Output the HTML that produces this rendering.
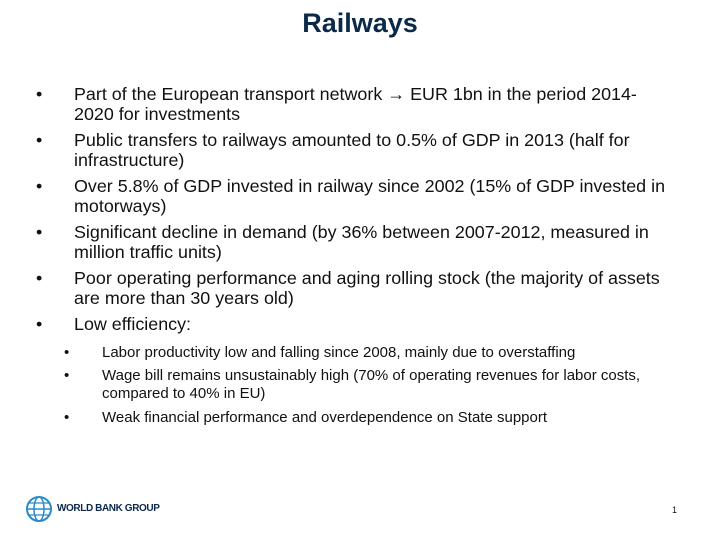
<!DOCTYPE html>
<html><head><meta charset="utf-8"><style>
body{margin:0;width:720px;height:540px;background:#fff;position:relative;overflow:hidden;font-family:"Liberation Sans",Arial,sans-serif;color:#111}
.t{position:absolute;white-space:nowrap;font-size:17.9px;line-height:20px}
.s{position:absolute;white-space:nowrap;font-size:15px;line-height:17px}
</style></head><body>
<div style="position:absolute;left:0;width:720px;top:8px;text-align:center;font-weight:bold;font-size:27px;color:#0b2a4a">Railways</div>
<div>
<div class="t" style="left:36px;top:84px">•</div>
<div class="t" style="left:74px;top:84px">Part of the European transport network → EUR 1bn in the period 2014-</div>
<div class="t" style="left:74px;top:104px">2020 for investments</div>
<div class="t" style="left:36px;top:130px">•</div>
<div class="t" style="left:74px;top:130px">Public transfers to railways amounted to 0.5% of GDP in 2013 (half for</div>
<div class="t" style="left:74px;top:150px">infrastructure)</div>
<div class="t" style="left:36px;top:176px">•</div>
<div class="t" style="left:74px;top:176px">Over 5.8% of GDP invested in railway since 2002 (15% of GDP invested in</div>
<div class="t" style="left:74px;top:196px">motorways)</div>
<div class="t" style="left:36px;top:222px">•</div>
<div class="t" style="left:74px;top:222px">Significant decline in demand (by 36% between 2007-2012, measured in</div>
<div class="t" style="left:74px;top:242px">million traffic units)</div>
<div class="t" style="left:36px;top:268px">•</div>
<div class="t" style="left:74px;top:268px">Poor operating performance and aging rolling stock (the majority of assets</div>
<div class="t" style="left:74px;top:288px">are more than 30 years old)</div>
<div class="t" style="left:36px;top:314px">•</div>
<div class="t" style="left:74px;top:314px">Low efficiency:</div>
<div class="s" style="left:64px;top:344px">•</div>
<div class="s" style="left:102px;top:344px">Labor productivity low and falling since 2008, mainly due to overstaffing</div>
<div class="s" style="left:64px;top:367px">•</div>
<div class="s" style="left:102px;top:367px">Wage bill remains unsustainably high (70% of operating revenues for labor costs,</div>
<div class="s" style="left:102px;top:385px">compared to 40% in EU)</div>
<div class="s" style="left:64px;top:409px">•</div>
<div class="s" style="left:102px;top:409px">Weak financial performance and overdependence on State support</div>
</div>
<div style="position:absolute;left:24px;top:494px">
<svg width="30" height="30" viewBox="0 0 30 30">
<circle cx="15" cy="15" r="12" fill="none" stroke="#2a8ac8" stroke-width="2"/>
<ellipse cx="15" cy="15" rx="5" ry="12" fill="none" stroke="#2a8ac8" stroke-width="1.5"/>
<line x1="3" y1="15" x2="27" y2="15" stroke="#2a8ac8" stroke-width="1.5"/>
<line x1="5" y1="9" x2="25" y2="9" stroke="#2a8ac8" stroke-width="1.2"/>
<line x1="5" y1="21" x2="25" y2="21" stroke="#2a8ac8" stroke-width="1.2"/>
</svg>
<span style="position:absolute;left:33px;top:9px;font-weight:bold;font-size:10px;color:#0b2a4a;white-space:nowrap;letter-spacing:-0.4px">WORLD BANK GROUP</span>
</div>
<div style="position:absolute;left:672px;top:505px;font-size:9px">1</div>
</body></html>
